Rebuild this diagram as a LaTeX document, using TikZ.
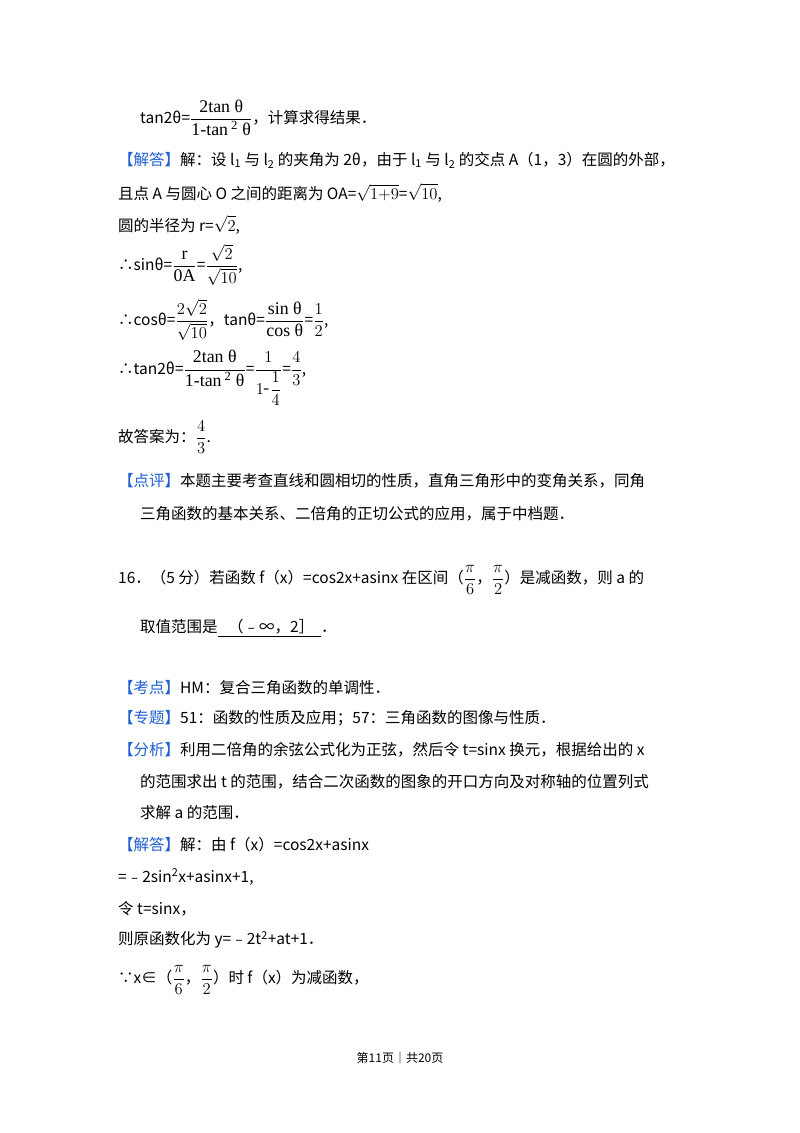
\documentclass[tikz,border=0pt]{standalone}
\usepackage{fontspec}
\setmainfont{Noto Sans CJK SC}
\newfontfamily\serif{Liberation Serif}
\usepackage{amsmath}
\usepackage{graphicx}
\definecolor{hb}{RGB}{30,95,210}
\newcommand{\hd}[1]{\textcolor{hb}{【#1】}}
\newcommand{\mm}[1]{\scalebox{1.15}{$\displaystyle #1$}}
\newcommand{\fr}[2]{\mm{\frac{\text{\serif #1}}{\text{\serif #2}}}}
\begin{document}
\begin{tikzpicture}[x=1pt,y=-1pt,
  t/.style={anchor=west,inner sep=0pt,font=\fontsize{15.5}{18}\selectfont}]
\useasboundingbox (0,0) rectangle (800,1133);
\node[t] (a1) at (140,118) {tan2θ=\fr{2tan θ}{1-tan\textsuperscript{ 2} θ}，计算求得结果．};
\node[t] (a2) at (118,160) {\hd{解答}解：设 l\textsubscript{1} 与 l\textsubscript{2} 的夹角为 2θ，由于 l\textsubscript{1} 与 l\textsubscript{2} 的交点 A（1，3）在圆的外部，};
\node[t] (a3) at (118,193) {且点 A 与圆心 O 之间的距离为 OA=\mm{\sqrt{1{+}9}}=\mm{\sqrt{10}},};
\node[t] (a4) at (118,225) {圆的半径为 r=\mm{\sqrt{2}},};
\node[t] (a5) at (118,265) {∴sinθ=\fr{r}{0A}=\mm{\frac{\sqrt{2}}{\sqrt{10}}},};
\node[t] (a6) at (118,320) {∴cosθ=\mm{\frac{2\sqrt{2}}{\sqrt{10}}}，tanθ=\fr{sin θ}{cos θ}=\mm{\frac{1}{2}},};
\node[t] (a7) at (118,378) {∴tan2θ=\fr{2tan θ}{1-tan\textsuperscript{ 2} θ}=\mm{\frac{1}{1\text{-}\dfrac{1}{4}}}=\mm{\frac{4}{3}},};
\node[t] (a8) at (118,437) {故答案为：\mm{\frac{4}{3}}.};
\node[t] (a9) at (118,481) {\hd{点评}本题主要考查直线和圆相切的性质，直角三角形中的变角关系，同角};
\node[t] (a10) at (140,514) {三角函数的基本关系、二倍角的正切公式的应用，属于中档题．};
\node[t] (b1) at (118,580) {16．（5 分）若函数 f（x）=cos2x+asinx 在区间（\mm{\frac{\pi}{6}}，\mm{\frac{\pi}{2}}）是减函数，则 a 的};
\node[t] (b2) at (140,628) {取值范围是\underline{\ \ \ （﹣∞，2］\ \ }．};
\node[t] (b3) at (118,688) {\hd{考点}HM：复合三角函数的单调性．};
\node[t] (b4) at (118,718) {\hd{专题}51：函数的性质及应用；57：三角函数的图像与性质．};
\node[t] (b5) at (118,750) {\hd{分析}利用二倍角的余弦公式化为正弦，然后令 t=sinx 换元，根据给出的 x};
\node[t] (b6) at (140,782) {的范围求出 t 的范围，结合二次函数的图象的开口方向及对称轴的位置列式};
\node[t] (b7) at (140,813) {求解 a 的范围．};
\node[t] (b8) at (118,845) {\hd{解答}解：由 f（x）=cos2x+asinx};
\node[t] (b9) at (118,877) {=﹣2sin\textsuperscript{2}x+asinx+1,};
\node[t] (b10) at (118,909) {令 t=sinx，};
\node[t] (b11) at (118,940) {则原函数化为 y=﹣2t\textsuperscript{2}+at+1．};
\node[t] (b12) at (118,980) {∵x∈（\mm{\frac{\pi}{6}}，\mm{\frac{\pi}{2}}）时 f（x）为减函数，};
\node[anchor=center,inner sep=0pt,font=\fontsize{12}{14}\selectfont] (p) at (400,1058) {第11页｜共20页};
\end{tikzpicture}
\end{document}
